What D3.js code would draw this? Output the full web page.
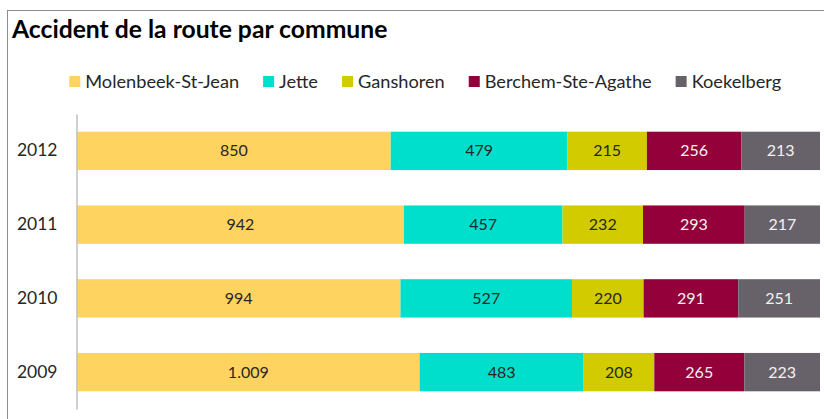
<!DOCTYPE html>
<html>
<head>
<meta charset="utf-8">
<script src="https://cdn.jsdelivr.net/npm/d3@7"></script>
<style>
  html, body { margin: 0; padding: 0; background: #fff; }
  svg { display: block; font-family: Lato, "Open Sans", sans-serif; }
</style>
</head>
<body>
<svg id="chart" width="824" height="419"></svg>
<script>
// Years shown top to bottom
const years = ["2012", "2011", "2010", "2009"];
const communes = ["Molenbeek-St-Jean", "Jette", "Ganshoren", "Berchem-Ste-Agathe", "Koekelberg"];
const colors = ["#FFD35F", "#00DFCB", "#D2CB00", "#93003A", "#67626A"];
const labelColors = ["#262626", "#262626", "#262626", "#F2F2F2", "#F2F2F2"];

// Road accidents per commune, one array per year
const v2012 = [850, 479, 215, 256, 213];
const v2011 = [942, 457, 232, 293, 217];
const v2010 = [994, 527, 220, 291, 251];
const v2009 = [1009, 483, 208, 265, 223];
const values = [v2012, v2011, v2010, v2009];

const title = "Accident de la route par commune";

const svg = d3.select("#chart");
const W = 824, H = 419;

// Frame of the chart area
svg.append("rect")
  .attr("x", 7.5).attr("y", 10.5)
  .attr("width", W + 10).attr("height", H + 10)
  .attr("fill", "#fff").attr("stroke", "#8c8c8c").attr("stroke-width", 1);

svg.append("text")
  .attr("x", 12).attr("y", 38)
  .attr("font-size", 24.7).attr("font-weight", 700)
  .attr("fill", "#000")
  .text(title);

// Build 100% stacked rows
const rows = years.map((y, i) => {
  const o = { year: y };
  communes.forEach((c, j) => o[c] = values[i][j]);
  return o;
});
const stack = d3.stack().keys(communes).offset(d3.stackOffsetExpand);
const series = stack(rows);

const x = d3.scaleLinear().domain([0, 1]).range([77, 820]);
const y = d3.scaleBand().domain(years).range([114, 409]).paddingInner(0.48).paddingOuter(0.24);

const fmt = d3.formatLocale({ decimal: ",", thousands: ".", grouping: [3], currency: ["", " €"] }).format(",d");

const g = svg.append("g");
series.forEach((s, j) => {
  const layer = g.append("g").attr("fill", colors[j]);
  layer.selectAll("rect").data(s).join("rect")
    .attr("x", d => x(d[0]))
    .attr("y", d => y(d.data.year))
    .attr("width", d => x(d[1]) - x(d[0]))
    .attr("height", y.bandwidth());
  g.append("g").selectAll("text").data(s).join("text")
    .attr("x", d => (x(d[0]) + x(d[1])) / 2)
    .attr("y", d => y(d.data.year) + y.bandwidth() / 2)
    .attr("dy", "0.35em")
    .attr("text-anchor", "middle")
    .attr("font-size", 16)
    .attr("fill", labelColors[j])
    .text(d => fmt(d.data[communes[j]]));
});

// Category axis
const yAxis = d3.axisLeft(y).tickSize(0).tickPadding(19);
const ax = svg.append("g").attr("transform", "translate(76.5,0)").call(yAxis);
ax.select(".domain").attr("stroke", "#bfbfbf").attr("stroke-width", 1.5);
ax.selectAll("text").attr("font-size", 17.5).attr("fill", "#262626")
  .attr("font-family", "Lato, 'Open Sans', sans-serif");

// Legend, centred above the bars
const legend = svg.append("g").attr("font-size", 18.2).attr("fill", "#262626");
const items = legend.selectAll("g").data(communes).join("g");
items.append("rect").attr("width", 11).attr("height", 11).attr("y", -5)
  .attr("fill", (d, i) => colors[i]);
items.append("text").attr("x", 16).attr("dy", "0.4em").text(d => d);
let cx = 0;
items.each(function () {
  const w = this.getBBox().width;
  d3.select(this).attr("data-x", cx);
  cx += w + 24;
});
const total = cx - 24;
const start = 425.5 - total / 2;
items.attr("transform", function () { return `translate(${start + (+this.getAttribute("data-x"))},81)`; });
</script>
</body>
</html>
